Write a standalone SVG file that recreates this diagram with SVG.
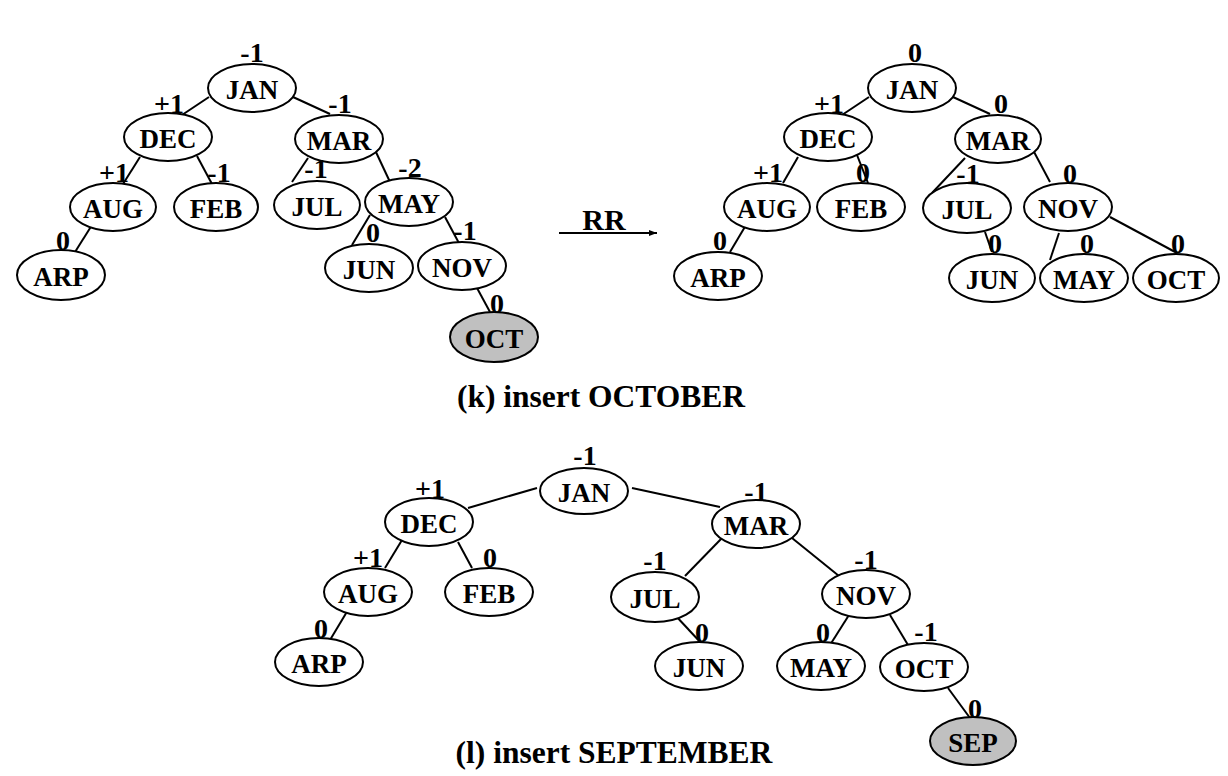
<svg xmlns="http://www.w3.org/2000/svg" width="1228" height="776" viewBox="0 0 1228 776" font-family="'Liberation Serif', Tinos, 'Times New Roman', 'Nimbus Roman', 'DejaVu Serif', serif">
<style>
.n ellipse{fill:#fff;stroke:#000;stroke-width:2}
.n.g ellipse{fill:#c0c0c0}
.t{font-family:'Liberation Serif', Tinos, 'Times New Roman', 'Nimbus Roman', 'DejaVu Serif', serif;font-weight:bold;font-size:27px;text-anchor:middle}
.b{font-family:'Liberation Serif', Tinos, 'Times New Roman', 'Nimbus Roman', 'DejaVu Serif', serif;font-weight:bold;font-size:28px;text-anchor:middle}
.e line{stroke:#000;stroke-width:2}
.cap{font-family:'Liberation Serif', Tinos, 'Times New Roman', 'Nimbus Roman', 'DejaVu Serif', serif;font-weight:bold;font-size:31.5px;text-anchor:middle}
</style>
<defs>
<marker id="ah" markerWidth="8" markerHeight="6" refX="8" refY="3" orient="auto" markerUnits="userSpaceOnUse">
<path d="M0,0 L8,3 L0,6 Z" fill="#000"/>
</marker>
</defs>
<rect width="1228" height="776" fill="#fff"/>
<g id="connectors" class="e">
<line x1="209" y1="97" x2="182" y2="115"/>
<line x1="293" y1="97" x2="330" y2="114"/>
<line x1="140" y1="157" x2="123" y2="184"/>
<line x1="197" y1="156" x2="212" y2="184"/>
<line x1="92" y1="225" x2="75" y2="252"/>
<line x1="308" y1="158" x2="292" y2="182"/>
<line x1="375" y1="150" x2="390" y2="182"/>
<line x1="370" y1="215" x2="352" y2="245"/>
<line x1="445" y1="217" x2="460" y2="245"/>
<line x1="477" y1="288" x2="490" y2="312"/>
<line x1="559" y1="233" x2="657" y2="233" marker-end="url(#ah)"/>
<line x1="869" y1="97" x2="842" y2="115"/>
<line x1="953" y1="97" x2="990" y2="114"/>
<line x1="798" y1="157" x2="783" y2="183"/>
<line x1="857" y1="155" x2="868" y2="183"/>
<line x1="746" y1="225" x2="730" y2="252"/>
<line x1="965" y1="158" x2="932" y2="193"/>
<line x1="1033" y1="150" x2="1050" y2="182"/>
<line x1="985" y1="232" x2="992" y2="252"/>
<line x1="1059" y1="233" x2="1050" y2="260"/>
<line x1="1110" y1="217" x2="1177" y2="253"/>
<line x1="537" y1="488" x2="468" y2="508"/>
<line x1="632" y1="488" x2="720" y2="507"/>
<line x1="402" y1="540" x2="385" y2="568"/>
<line x1="458" y1="542" x2="472" y2="568"/>
<line x1="348" y1="610" x2="330" y2="640"/>
<line x1="722" y1="538" x2="685" y2="576"/>
<line x1="792" y1="538" x2="839" y2="576"/>
<line x1="675" y1="615" x2="702" y2="644"/>
<line x1="849" y1="615" x2="830" y2="645"/>
<line x1="890" y1="615" x2="908" y2="645"/>
<line x1="948" y1="688" x2="970" y2="718"/>
</g>
<text class="cap" x="604" y="230" style="font-size:30px">RR</text>

<g id="k1-JAN" class="n"><ellipse cx="252" cy="88" rx="44" ry="24"/><text class="t" x="252" y="99">JAN</text><text class="b" x="252" y="62">-1</text></g>
<g id="k1-DEC" class="n"><ellipse cx="168" cy="137" rx="44" ry="24"/><text class="t" x="168" y="148">DEC</text><text class="b" x="169" y="113">+1</text></g>
<g id="k1-AUG" class="n"><ellipse cx="113" cy="207" rx="43" ry="24"/><text class="t" x="113" y="218">AUG</text><text class="b" x="114" y="182">+1</text></g>
<g id="k1-FEB" class="n"><ellipse cx="216" cy="207" rx="42" ry="24"/><text class="t" x="216" y="218">FEB</text><text class="b" x="219" y="182">-1</text></g>
<g id="k1-ARP" class="n"><ellipse cx="61" cy="275" rx="44" ry="25"/><text class="t" x="61" y="286">ARP</text><text class="b" x="63" y="250">0</text></g>
<g id="k1-MAR" class="n"><ellipse cx="339" cy="139" rx="44" ry="24"/><text class="t" x="339" y="150">MAR</text><text class="b" x="340" y="113">-1</text></g>
<g id="k1-JUL" class="n"><ellipse cx="317" cy="205" rx="43" ry="24"/><text class="t" x="317" y="216">JUL</text><text class="b" x="316" y="178">-1</text></g>
<g id="k1-MAY" class="n"><ellipse cx="409" cy="202" rx="44" ry="24"/><text class="t" x="409" y="213">MAY</text><text class="b" x="410" y="177">-2</text></g>
<g id="k1-JUN" class="n"><ellipse cx="369" cy="268" rx="44" ry="24"/><text class="t" x="369" y="279">JUN</text><text class="b" x="373" y="242">0</text></g>
<g id="k1-NOV" class="n"><ellipse cx="462" cy="266" rx="44" ry="24"/><text class="t" x="462" y="277">NOV</text><text class="b" x="465" y="240">-1</text></g>
<g id="k1-OCT" class="n g"><ellipse cx="494" cy="337" rx="44" ry="25"/><text class="t" x="494" y="348">OCT</text><text class="b" x="497" y="313">0</text></g>

<g id="k2-JAN" class="n"><ellipse cx="912" cy="88" rx="44" ry="24"/><text class="t" x="912" y="99">JAN</text><text class="b" x="915" y="62">0</text></g>
<g id="k2-DEC" class="n"><ellipse cx="828" cy="137" rx="44" ry="24"/><text class="t" x="828" y="148">DEC</text><text class="b" x="829" y="113">+1</text></g>
<g id="k2-AUG" class="n"><ellipse cx="767" cy="207" rx="43" ry="24"/><text class="t" x="767" y="218">AUG</text><text class="b" x="768" y="182">+1</text></g>
<g id="k2-FEB" class="n"><ellipse cx="861" cy="207" rx="44" ry="24"/><text class="t" x="861" y="218">FEB</text><text class="b" x="863" y="182">0</text></g>
<g id="k2-ARP" class="n"><ellipse cx="718" cy="276" rx="44" ry="24"/><text class="t" x="718" y="287">ARP</text><text class="b" x="720" y="250">0</text></g>
<g id="k2-MAR" class="n"><ellipse cx="998" cy="139" rx="43" ry="24"/><text class="t" x="998" y="150">MAR</text><text class="b" x="1001" y="113">0</text></g>
<g id="k2-JUL" class="n"><ellipse cx="967" cy="208" rx="44" ry="25"/><text class="t" x="967" y="219">JUL</text><text class="b" x="968" y="183">-1</text></g>
<g id="k2-NOV" class="n"><ellipse cx="1068" cy="207" rx="44" ry="24"/><text class="t" x="1068" y="218">NOV</text><text class="b" x="1070" y="183">0</text></g>
<g id="k2-JUN" class="n"><ellipse cx="992" cy="278" rx="43" ry="24"/><text class="t" x="992" y="289">JUN</text><text class="b" x="995" y="253">0</text></g>
<g id="k2-MAY" class="n"><ellipse cx="1084" cy="278" rx="44" ry="24"/><text class="t" x="1084" y="289">MAY</text><text class="b" x="1087" y="253">0</text></g>
<g id="k2-OCT" class="n"><ellipse cx="1176" cy="278" rx="43" ry="24"/><text class="t" x="1176" y="289">OCT</text><text class="b" x="1178" y="253">0</text></g>

<text class="cap" x="601" y="407">(k) insert OCTOBER</text>

<g id="l-JAN" class="n"><ellipse cx="584" cy="491" rx="44" ry="23"/><text class="t" x="584" y="502">JAN</text><text class="b" x="585" y="465">-1</text></g>
<g id="l-DEC" class="n"><ellipse cx="429" cy="522" rx="44" ry="24"/><text class="t" x="429" y="533">DEC</text><text class="b" x="430" y="498">+1</text></g>
<g id="l-AUG" class="n"><ellipse cx="368" cy="592" rx="44" ry="24"/><text class="t" x="368" y="603">AUG</text><text class="b" x="368" y="567">+1</text></g>
<g id="l-FEB" class="n"><ellipse cx="489" cy="592" rx="44" ry="24"/><text class="t" x="489" y="603">FEB</text><text class="b" x="490" y="567">0</text></g>
<g id="l-ARP" class="n"><ellipse cx="319" cy="662" rx="44" ry="24"/><text class="t" x="319" y="673">ARP</text><text class="b" x="321" y="638">0</text></g>
<g id="l-MAR" class="n"><ellipse cx="756" cy="524" rx="44" ry="24"/><text class="t" x="756" y="535">MAR</text><text class="b" x="756" y="501">-1</text></g>
<g id="l-JUL" class="n"><ellipse cx="655" cy="597" rx="44" ry="25"/><text class="t" x="655" y="608">JUL</text><text class="b" x="655" y="570">-1</text></g>
<g id="l-NOV" class="n"><ellipse cx="866" cy="594" rx="44" ry="24"/><text class="t" x="866" y="605">NOV</text><text class="b" x="866" y="569">-1</text></g>
<g id="l-JUN" class="n"><ellipse cx="699" cy="666" rx="44" ry="24"/><text class="t" x="699" y="677">JUN</text><text class="b" x="702" y="642">0</text></g>
<g id="l-MAY" class="n"><ellipse cx="821" cy="666" rx="44" ry="24"/><text class="t" x="821" y="677">MAY</text><text class="b" x="823" y="642">0</text></g>
<g id="l-OCT" class="n"><ellipse cx="924" cy="667" rx="44" ry="24"/><text class="t" x="924" y="678">OCT</text><text class="b" x="926" y="641">-1</text></g>
<g id="l-SEP" class="n g"><ellipse cx="973" cy="741" rx="43" ry="24"/><text class="t" x="973" y="752">SEP</text><text class="b" x="975" y="718">0</text></g>

<text class="cap" x="614" y="763">(l) insert SEPTEMBER</text>
</svg>
